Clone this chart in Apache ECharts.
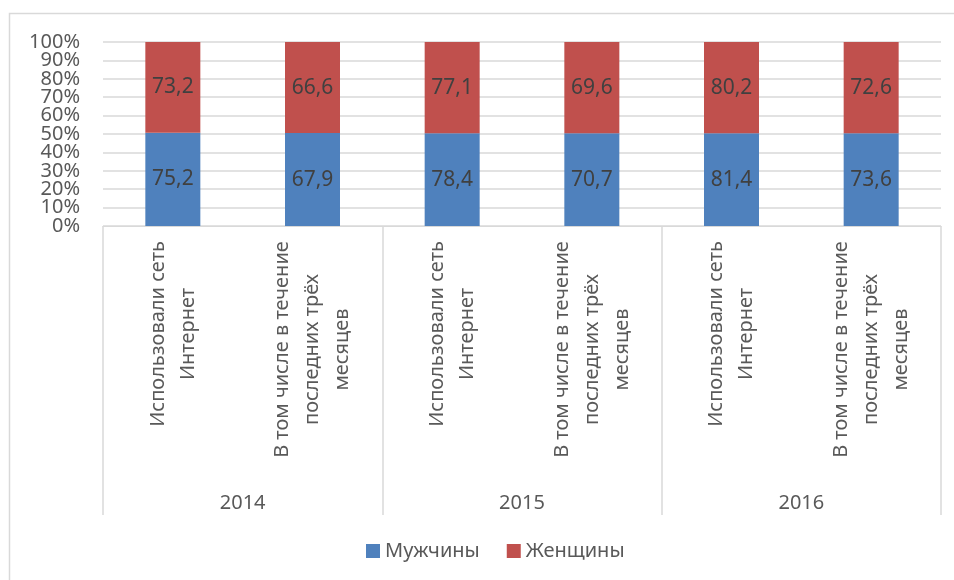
<!DOCTYPE html>
<html><head><meta charset="utf-8">
<script src="https://cdn.jsdelivr.net/npm/echarts@6/dist/echarts.min.js"></script>
<style>html,body{margin:0;padding:0;background:#fff}#c{width:954px;height:580px}</style>
</head><body><div id="c"></div>
<script>
const categories = [
  'Использовали сеть\nИнтернет', 'В том числе в течение\nпоследних трёх\nмесяцев',
  'Использовали сеть\nИнтернет', 'В том числе в течение\nпоследних трёх\nмесяцев',
  'Использовали сеть\nИнтернет', 'В том числе в течение\nпоследних трёх\nмесяцев'
];
const years = ['2014', '2015', '2016'];
const men = [75.2, 67.9, 78.4, 70.7, 81.4, 73.6];
const women = [73.2, 66.6, 77.1, 69.6, 80.2, 72.6];
const seriesNames = ['Мужчины', 'Женщины'];
const yTicksA = [0, 20, 40, 60, 80, 100];
const yTicksB = [10, 30, 50, 70, 90];

const FONT = 'Noto Sans';
const FS = 20;
function measure(t) {
  const c = document.createElement('canvas').getContext('2d');
  c.font = FS + 'px "' + FONT + '"';
  return c.measureText(t).width;
}
const rich = {};
categories.forEach((cat, i) => {
  const w = Math.max(...cat.split('\n').map(measure));
  rich['k' + i] = { width: Math.ceil(w) + 2, align: 'center', fontFamily: FONT, fontSize: FS, color: '#595959', lineHeight: 30 };
});

const menPct = men.map((v, i) => ({ value: v / (v + women[i]) * 100, raw: v }));
const womenPct = women.map((v, i) => ({ value: v / (v + men[i]) * 100, raw: v }));
const fmt = p => p.data.raw.toFixed(1).replace('.', ',');

const yLabel = (vals) => ({
  customValues: vals, formatter: '{value}%', margin: 23, fontFamily: FONT, fontSize: FS, color: '#595959',
  showMinLabel: true, showMaxLabel: true
});

const chart = echarts.init(document.getElementById('c'));
chart.setOption({
  animation: false,
  backgroundColor: '#fff',
  textStyle: { fontFamily: FONT },
  graphic: [{
    type: 'rect', silent: true, z: -10,
    shape: { x: 9.5, y: 13.5, width: 1000, height: 1000 },
    style: { fill: 'none', stroke: '#d9d9d9', lineWidth: 1.5 }
  }],
  grid: { left: 103, right: 13, top: 42, bottom: 354 },
  legend: {
    data: seriesNames, bottom: 14, left: 361, icon: 'rect',
    itemWidth: 14, itemHeight: 14, itemGap: 27,
    textStyle: { fontFamily: FONT, fontSize: FS, color: '#595959' }
  },
  xAxis: [{
    type: 'category', data: categories, position: 'bottom',
    axisLine: { lineStyle: { color: '#d9d9d9', width: 1 } },
    axisTick: { show: false },
    axisLabel: {
      interval: 0, rotate: 90, margin: 14,
      formatter: (v, i) => v.split('\n').map(l => '{k' + i + '|' + l + '}').join('\n'),
      rich: rich
    }
  }, {
    type: 'category', data: years, position: 'bottom',
    axisLine: { show: false },
    axisTick: { show: true, length: 289, lineStyle: { color: '#d9d9d9', width: 1.5 } },
    axisLabel: { margin: 267, fontFamily: FONT, fontSize: FS, color: '#595959' }
  }],
  yAxis: [{
    type: 'value', min: 0, max: 100, interval: 10, position: 'left',
    axisLine: { show: false }, axisTick: { show: false },
    splitLine: { lineStyle: { color: '#d9d9d9', width: 1.5 } },
    axisLabel: yLabel(yTicksA)
  }, {
    type: 'value', min: 0, max: 100, interval: 10, position: 'left', offset: 0,
    axisLine: { show: false }, axisTick: { show: false },
    splitLine: { show: false },
    axisLabel: yLabel(yTicksB)
  }],
  series: [{
    name: seriesNames[0], type: 'bar', stack: 's', data: menPct, barWidth: 55,
    itemStyle: { color: '#4F81BD' },
    label: { show: true, position: 'inside', formatter: fmt, fontFamily: FONT, fontSize: 21, color: '#404040' }
  }, {
    name: seriesNames[1], type: 'bar', stack: 's', data: womenPct, barWidth: 55,
    itemStyle: { color: '#C0504D' },
    label: { show: true, position: 'inside', formatter: fmt, fontFamily: FONT, fontSize: 21, color: '#404040' }
  }]
});
</script></body></html>
